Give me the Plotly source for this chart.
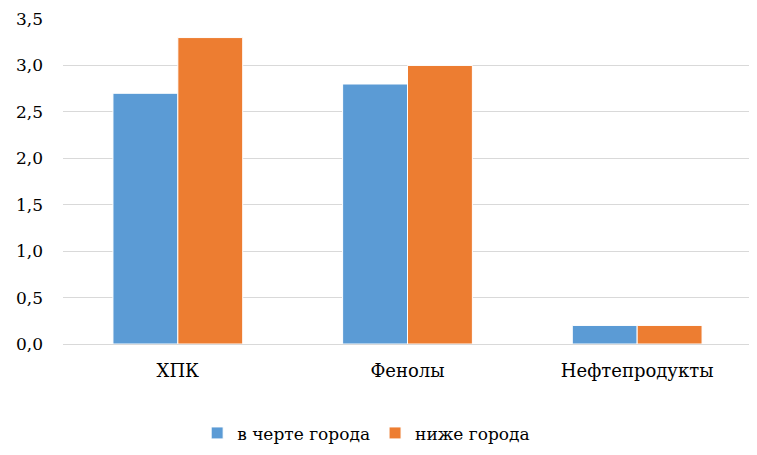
import plotly.graph_objects as go

# Data
categories = ['ХПК', 'Фенолы', 'Нефтепродукты']
in_city = [2.7, 2.8, 0.2]
below_city = [3.3, 3.0, 0.2]
y_ticks = [0, 0.5, 1.0, 1.5, 2.0, 2.5, 3.0, 3.5]

font_family = 'DejaVu Serif'

fig = go.Figure()
fig.add_trace(go.Bar(
    x=categories, y=in_city, name='в черте города',
    marker=dict(color='#5B9BD5', line=dict(color='white', width=1)),
))
fig.add_trace(go.Bar(
    x=categories, y=below_city, name='ниже города',
    marker=dict(color='#ED7D31', line=dict(color='white', width=1)),
))

fig.update_layout(
    width=757,
    height=455,
    margin=dict(l=55, r=13, t=11, b=119),
    plot_bgcolor='white',
    paper_bgcolor='white',
    separators=', ',
    barmode='group',
    bargap=0.435,
    bargroupgap=0,
    font=dict(family=font_family, size=17, color='#000000'),
    legend=dict(
        orientation='h', x=0.44, xanchor='center', y=-0.275, yanchor='middle',
        font=dict(family=font_family, size=17), traceorder='normal',
    ),
    xaxis=dict(showline=True, linecolor='#d9d9d9', ticks='',
               tickfont=dict(family=font_family, size=18),
               ticklabelstandoff=10, automargin=False),
    yaxis=dict(
        range=[0, 3.5], tickvals=y_ticks, tickformat='.1f',
        showgrid=True, gridcolor='#d9d9d9', zeroline=False,
        tickfont=dict(family=font_family, size=17),
        ticklabelstandoff=19, automargin=False,
    ),
)

fig.write_html('out.html')
